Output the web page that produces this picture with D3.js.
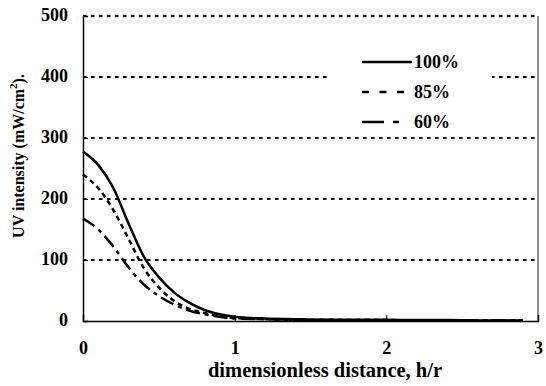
<!DOCTYPE html>
<html>
<head>
<meta charset="utf-8">
<script src="https://cdn.jsdelivr.net/npm/d3@7"></script>
<style>
    body { margin: 0; background: #fff; }
    text { font-family: 'Liberation Serif', 'Times New Roman', serif; font-weight: bold; fill: #000; }
</style>
</head>
<body>
<div id="chart-area"></div>
<script>

// DATA
// =================
var hVals = [0, 0.1, 0.2, 0.3, 0.4, 0.5, 0.6, 0.7, 0.8, 0.9, 1.0, 1.2, 1.4, 1.6, 1.8, 2.0, 2.2, 2.4, 2.6, 2.8, 2.9];
var uv100 = [278, 256, 218, 160, 106, 72, 47, 30, 18, 11, 7, 4, 3, 2, 2, 2, 1.5, 1.5, 1, 1, 1];
var uv85  = [240, 218, 182, 135, 87, 55, 33, 20, 13, 8, 5, 3, 2, 2, 1.5, 1.5, 1, 1, 1, 1, 1];
var uv60  = [168, 150, 122, 88, 60, 41, 27, 17, 11, 7, 4, 3, 2, 1.5, 1, 1, 1, 1, 1, 1, 1];

var seriesNames = ['100%', '85%', '60%'];
var xTicks = [0, 1, 2, 3];
var yTicks = [0, 100, 200, 300, 400, 500];

// CANVAS + MARGINS
// =================
var margin, width, height, svg, g;

margin = { left: 83, right: 8, top: 16, bottom: 65 };
width = 546 - margin.left - margin.right;
height = 386 - margin.top - margin.bottom;

svg = d3.select('#chart-area')
    .append('svg')
        .attr('width', 546)
        .attr('height', 386);

g = svg.append('g')
    .attr('transform', 'translate(' + margin.left + ', ' + margin.top + ')');

// SCALES
var x = d3.scaleLinear().domain([0, 3]).range([0, width]);
var y = d3.scaleLinear().domain([0, 500]).range([height, 0]);

// GRIDLINES (dotted)
g.selectAll('.grid')
    .data(yTicks.filter(d => d > 0))
    .enter()
    .append('line')
        .attr('x1', 0)
        .attr('x2', width)
        .attr('y1', d => y(d))
        .attr('y2', d => y(d))
        .attr('stroke', '#000')
        .attr('stroke-width', 2)
        .attr('stroke-dasharray', '3.5,4.5');

// right border
g.append('line')
    .attr('x1', width).attr('x2', width)
    .attr('y1', 0).attr('y2', height)
    .attr('stroke', '#666')
    .attr('stroke-width', 1.5);

// AXES
var xAxisCall = d3.axisBottom(x).tickValues(xTicks).tickSize(-6).tickFormat(d3.format('d'));
var xAx = g.append('g')
    .attr('transform', 'translate(0,' + height + ')')
    .call(xAxisCall);
xAx.select('.domain').attr('stroke-width', 1.5);
xAx.selectAll('text')
    .attr('y', 32.5)
    .attr('dy', null)
    .attr('font-size', '18px');

var yAxisCall = d3.axisLeft(y).tickValues(yTicks).tickSize(-5);
var yAx = g.append('g').call(yAxisCall);
yAx.select('.domain').attr('stroke-width', 1.5);
yAx.selectAll('text')
    .attr('x', -15)
    .attr('dy', '4px')
    .attr('font-size', '18px');
svg.selectAll('.tick text').attr('font-family', null);
svg.selectAll('.domain').attr('stroke', '#000');

// LINES
var line = d3.line()
    .x((d, i) => x(hVals[i]))
    .y(d => y(d))
    .curve(d3.curveMonotoneX);

var styles = [
    { data: uv100, dash: null, legendDash: null },
    { data: uv85, dash: '5,4', legendDash: '7,10.5' },
    { data: uv60, dash: '14,5,4,5', legendDash: '22,9,6,20' }
];

styles.forEach(s => {
    g.append('path')
        .attr('d', line(s.data))
        .attr('fill', 'none')
        .attr('stroke', '#000')
        .attr('stroke-width', 2.5)
        .attr('stroke-dasharray', s.dash);
});

// LEGEND
var lg = svg.append('g');
lg.append('rect')
    .attr('x', 331).attr('y', 46)
    .attr('width', 161).attr('height', 88)
    .attr('fill', '#fff');

styles.forEach((s, i) => {
    var ly = 62 + i * 30;
    lg.append('line')
        .attr('x1', 362).attr('x2', 412)
        .attr('y1', ly).attr('y2', ly)
        .attr('stroke', '#000')
        .attr('stroke-width', 2.7)
        .attr('stroke-dasharray', s.legendDash);
    lg.append('text')
        .attr('x', 414)
        .attr('y', ly + 6)
        .attr('font-size', '18px')
        .text(seriesNames[i]);
});

// LABELS
// =================
svg.append('text')
    .attr('x', 325)
    .attr('y', 377)
    .attr('font-size', '20.5px')
    .attr('text-anchor', 'middle')
    .text('dimensionless distance, h/r');

var yl = svg.append('text')
    .attr('transform', 'translate(24,156) rotate(-90)')
    .attr('font-size', '16px')
    .attr('text-anchor', 'middle');
yl.append('tspan').text('UV intensity (mW/cm');
yl.append('tspan').attr('font-size', '11px').attr('dy', '-7').text('2');
yl.append('tspan').attr('dy', '7').text(').');

</script>
</body>
</html>
